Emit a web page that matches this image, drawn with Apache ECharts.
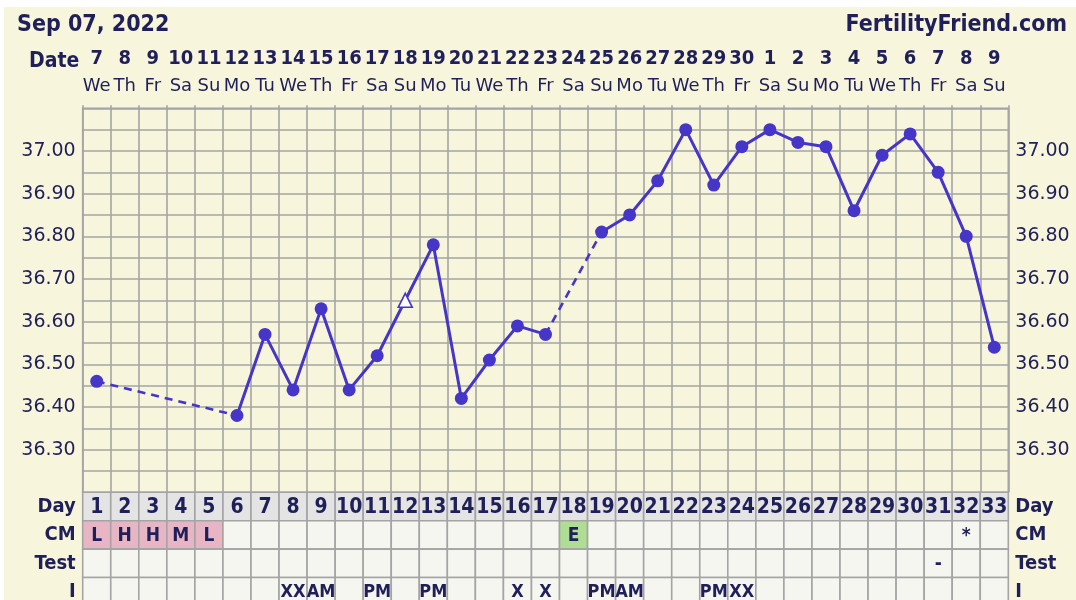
<!DOCTYPE html>
<html>
<head>
<meta charset="utf-8">
<script src="https://cdn.jsdelivr.net/npm/echarts@6/dist/echarts.min.js"></script>
<style>
html,body{margin:0;padding:0;background:#ffffff;}
#chart{width:1076px;height:600px;}
</style>
</head>
<body>
<div id="chart"></div>
<script>
// ---- data ----
const chartDate = 'Sep 07, 2022';
const siteName = 'FertilityFriend.com';
const dates = ['7','8','9','10','11','12','13','14','15','16','17','18','19','20','21','22','23','24','25','26','27','28','29','30','1','2','3','4','5','6','7','8','9'];
const weekdays = ['We','Th','Fr','Sa','Su','Mo','Tu','We','Th','Fr','Sa','Su','Mo','Tu','We','Th','Fr','Sa','Su','Mo','Tu','We','Th','Fr','Sa','Su','Mo','Tu','We','Th','Fr','Sa','Su'];
const cycleDays = ['1','2','3','4','5','6','7','8','9','10','11','12','13','14','15','16','17','18','19','20','21','22','23','24','25','26','27','28','29','30','31','32','33'];
const temps = [36.46, null, null, null, null, 36.38, 36.57, 36.44, 36.63, 36.44, 36.52, 36.65, 36.78, 36.42, 36.51, 36.59, 36.57, null, 36.81, 36.85, 36.93, 37.05, 36.92, 37.01, 37.05, 37.02, 37.01, 36.86, 36.99, 37.04, 36.95, 36.80, 36.54];
const triangleDays = ['12'];
const cmValues = ['L','H','H','M','L','','','','','','','','','','','','','E','','','','','','','','','','','','','','*',''];
const testValues = ['','','','','','','','','','','','','','','','','','','','','','','','','','','','','','','-','',''];
const iValues = ['','','','','','','','XX','AM','','PM','','PM','','','X','X','','PM','AM','','','PM','XX','','','','','','','','',''];
const rowNames = ['Day','CM','Test','I'];
const tempTickLabels = ['36.30','36.40','36.50','36.60','36.70','36.80','36.90','37.00'];
const tempMin = 36.20, tempMax = 37.10, tempStep = 0.05;

// ---- styles ----
const INK = '#1f1f5a';
const LINE = '#4535c8';
const GRIDC = '#a4a4a4';
const COND = '"DejaVu Sans Condensed", "DejaVu Sans", sans-serif';
const REG = '"DejaVu Sans", Verdana, sans-serif';
const cmColors = {L:'#e8b5c5', H:'#e8b5c5', M:'#e8b5c5', E:'#aedd93'};

// build series data
const mainData = temps.map((v, i) => {
  if (v === null) return null;
  if (triangleDays.indexOf(cycleDays[i]) >= 0) {
    return {value: v, symbol: 'triangle', symbolSize: 14,
      itemStyle: {color: '#ffffff', borderColor: LINE, borderWidth: 1.6}};
  }
  return v;
});
const gapSeries = [];
for (let i = 0; i < temps.length; i++) {
  if (temps[i] === null) {
    let s = i - 1, e = i;
    while (e < temps.length && temps[e] === null) e++;
    if (s >= 0 && e < temps.length) {
      const d = temps.map(() => null);
      d[s] = temps[s]; d[e] = temps[e];
      gapSeries.push({
        type: 'line', xAxisIndex: 0, yAxisIndex: 0, data: d, connectNulls: true,
        showSymbol: false, symbol: 'none', z: 1, silent: true,
        lineStyle: {color: LINE, width: 2.6, type: [8, 6]}
      });
    }
    i = e - 1;
  }
}
const cells = [];
const rowsData = [cycleDays, cmValues, testValues, iValues];
for (let r = 0; r < rowsData.length; r++) {
  for (let c = 0; c < cycleDays.length; c++) {
    cells.push({col: c, row: r, text: rowsData[r][c]});
  }
}

const chart = echarts.init(document.getElementById('chart'), null, {renderer: 'canvas'});
const tempAxis = (pos, showSplit) => ({
  type: 'value', gridIndex: 0, position: pos, min: tempMin, max: tempMax, interval: tempStep,
  axisLine: {show: false}, axisTick: {show: false},
  splitLine: {show: showSplit, lineStyle: {color: GRIDC, width: 1.6}},
  axisLabel: {
    margin: 7, color: INK, fontFamily: REG, fontSize: 19,
    formatter: v => {
      const s = v.toFixed(2);
      return tempTickLabels.indexOf(s) >= 0 ? s : '';
    }
  }
});

chart.setOption({
  backgroundColor: '#ffffff',
  animation: false,
  title: [
    {text: chartDate, left: 12, top: 9, textStyle: {color: INK, fontFamily: COND, fontWeight: 'bold', fontSize: 23}},
    {text: siteName, right: 4, top: 9, textStyle: {color: INK, fontFamily: COND, fontWeight: 'bold', fontSize: 23}}
  ],
  graphic: [
    {type: 'rect', z: -10, silent: true, shape: {x: 4, y: 7, width: 1072, height: 593}, style: {fill: '#f8f5dd'}},
    {type: 'text', z: 10, left: 29, top: 51, style: {text: 'Date', fill: INK, font: 'bold 21px ' + COND}}
  ],
  grid: [
    {left: 82.7, right: 67.7, top: 108.3, height: 384, show: true, borderColor: GRIDC, borderWidth: 1.6, backgroundColor: 'transparent', outerBoundsMode: 'none', containLabel: false},
    {left: 82.7, right: 67.7, top: 492.3, height: 113.6, outerBoundsMode: 'none', containLabel: false}
  ],
  xAxis: [
    {type: 'category', gridIndex: 0, position: 'top', data: weekdays, boundaryGap: true,
      axisLine: {show: false}, axisTick: {show: true, length: 3, interval: 0, lineStyle: {color: GRIDC, width: 1.6}},
      splitLine: {show: true, interval: 0, lineStyle: {color: GRIDC, width: 1.6}},
      axisLabel: {interval: 0, margin: 22, verticalAlign: 'middle', color: INK, fontFamily: REG, fontSize: 18}},
    {type: 'category', gridIndex: 0, position: 'top', data: dates, boundaryGap: true,
      axisLine: {show: false}, axisTick: {show: false}, splitLine: {show: false},
      axisLabel: {interval: 0, margin: 50, verticalAlign: 'middle', color: INK, fontFamily: COND, fontWeight: 'bold', fontSize: 20}},
    {type: 'category', gridIndex: 1, data: cycleDays, boundaryGap: true, show: false}
  ],
  yAxis: [
    tempAxis('left', true),
    tempAxis('right', false),
    {type: 'category', gridIndex: 1, position: 'left', data: rowNames, inverse: true,
      axisLine: {show: false}, axisTick: {show: false}, splitLine: {show: false},
      axisLabel: {margin: 7, color: INK, fontFamily: COND, fontWeight: 'bold', fontSize: 20}},
    {type: 'category', gridIndex: 1, position: 'right', data: rowNames, inverse: true,
      axisLine: {show: false}, axisTick: {show: false}, splitLine: {show: false},
      axisLabel: {margin: 7, color: INK, fontFamily: COND, fontWeight: 'bold', fontSize: 20}}
  ],
  series: [
    ...gapSeries,
    {type: 'line', xAxisIndex: 0, yAxisIndex: 0, data: mainData, connectNulls: false,
      symbol: 'circle', symbolSize: 13, showAllSymbol: true, z: 3,
      itemStyle: {color: LINE}, lineStyle: {color: LINE, width: 3}},
    {type: 'custom', xAxisIndex: 2, yAxisIndex: 2, silent: true,
      data: cells.map(c => [c.col, c.row]),
      renderItem: (params, api) => {
        const c = cells[params.dataIndex];
        const p = api.coord([c.col, c.row]);
        const s = api.size([1, 1]);
        let fill = c.row === 0 ? '#e4e4e4' : '#f6f6f1';
        if (c.row === 1 && cmColors[c.text]) fill = cmColors[c.text];
        const fs = c.row === 0 ? 21 : (c.row === 3 ? 18 : 19);
        return {type: 'group', children: [
          {type: 'rect', shape: {x: p[0] - s[0] / 2, y: p[1] - s[1] / 2, width: s[0], height: s[1]},
            style: {fill: fill, stroke: GRIDC, lineWidth: 1.6}},
          {type: 'text', style: {text: c.text, x: p[0], y: p[1] + 1, align: 'center', verticalAlign: 'middle',
            fill: INK, font: 'bold ' + fs + 'px ' + COND}}
        ]};
      }}
  ]
});
</script>
</body>
</html>
